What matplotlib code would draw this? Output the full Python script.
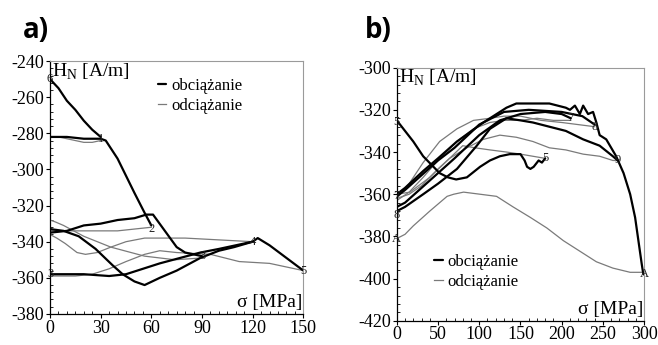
import numpy as np
import matplotlib
matplotlib.use("Agg")
import matplotlib.pyplot as plt
from matplotlib.ticker import MultipleLocator
from matplotlib.lines import Line2D

plt.rcParams["font.family"] = ["Liberation Serif", "DejaVu Serif"]
plt.rcParams["axes.unicode_minus"] = False

# ---------- panel a) : sigma up to 150 MPa ----------
# loading (obciążanie) curves, thick black
a_load_1_x = [0, 5, 10, 15, 20, 25, 30]
a_load_1_y = [-250, -255, -262, -267, -273, -278, -282]
a_load_2_x = [0, 10, 20, 30, 33, 40, 50, 56, 60]
a_load_2_y = [-282, -282, -283, -283, -284, -294, -313, -324, -331]
a_load_3_x = [0, 10, 20, 30, 40, 50, 57, 61, 68, 75, 80, 90]
a_load_3_y = [-335, -334, -331, -330, -328, -327, -325, -325, -334, -343, -346, -348]
a_load_4_x = [0, 10, 20, 35, 45, 55, 65, 77, 89, 100, 110, 120]
a_load_4_y = [-358, -358, -358, -359, -358, -355, -352, -349, -346, -344, -342, -340]
a_load_5_x = [0, 8, 17, 27, 37, 43, 50, 56, 65, 75, 89, 100, 109, 120, 123, 130, 140, 150]
a_load_5_y = [-333, -334, -337, -344, -353, -358, -362, -364, -360, -356, -349, -345, -343, -340, -338, -342, -349, -356]

# unloading (odciążanie) curves, thin grey
a_unl_1_x = [30, 25, 20, 15, 10, 5, 0]
a_unl_1_y = [-284, -285, -285, -284, -283, -282, -282]
a_unl_2_x = [60, 50, 40, 30, 20, 10, 0]
a_unl_2_y = [-332, -333, -334, -334, -334, -334, -334]
a_unl_3_x = [90, 74, 56, 36, 20, 8, 3, 0]
a_unl_3_y = [-349, -350, -348, -343, -337, -331, -329, -328]
a_unl_4_x = [120, 100, 80, 65, 56, 45, 36, 28, 21, 16, 9, 4, 0]
a_unl_4_y = [-340, -339, -338, -338, -338, -340, -343, -346, -347, -346, -341, -338, -336]
a_unl_5_x = [150, 140, 130, 112, 95, 75, 65, 56, 45, 35, 25, 15, 5, 0]
a_unl_5_y = [-356, -354, -352, -351, -347, -346, -345, -347, -351, -355, -358, -359, -359, -359]

a_marks = ["6", "1", "2", "3", "4", "5", "3"]
a_mark_x = [0, 30, 60, 90, 120, 150, 0]
a_mark_y = [-250, -283, -333, -348, -340, -356, -358]

# ---------- panel b) : sigma up to 300 MPa ----------
b_load_1_x = [0, 10, 20, 32, 42, 52, 62, 72, 85, 101, 113, 125, 137, 150, 155, 158, 162, 166, 172, 176, 180]
b_load_1_y = [-325, -330, -335, -342, -346, -350, -352, -353, -352, -347, -344, -342, -341, -341, -344, -347, -348, -347, -344, -345, -343]
b_load_2_x = [0, 10, 32, 50, 73, 97, 113, 133, 150, 165, 185, 205, 226, 246, 262, 268]
b_load_2_y = [-368, -366, -360, -355, -348, -337, -329, -324, -325, -326, -328, -330, -334, -337, -342, -344]
b_load_3_x = [0, 10, 30, 50, 70, 100, 125, 150, 180, 200, 211]
b_load_3_y = [-366, -364, -357, -350, -343, -332, -325, -322, -321, -322, -324]
b_load_4_x = [0, 10, 30, 50, 70, 100, 130, 160, 200, 225, 240]
b_load_4_y = [-361, -358, -351, -344, -338, -327, -321, -320, -321, -323, -327]
b_load_5_x = [0, 10, 32, 50, 73, 105, 133, 145, 165, 185, 205, 210, 216, 222, 226, 232, 238, 242, 246,
              254, 266, 275, 283, 289, 293, 297, 299, 302, 305]
b_load_5_y = [-360, -357, -349, -343, -335, -326, -319, -317, -317, -317, -319, -320, -318, -322, -318, -322, -321, -326, -332,
              -334, -342, -350, -360, -371, -382, -393, -398, -397, -399]

b_unl_5_x = [180, 165, 150, 133, 113, 95, 80, 64, 50, 30, 15, 0]
b_unl_5_y = [-343, -342, -341, -340, -339, -338, -337, -343, -348, -356, -360, -362]
b_unl_7_x = [211, 190, 170, 150, 130, 113, 93, 73, 52, 32, 15, 0]
b_unl_7_y = [-325, -325, -324, -325, -325, -326, -329, -335, -343, -352, -359, -363]
b_unl_8_x = [240, 220, 200, 175, 150, 130, 113, 93, 73, 52, 32, 15, 0]
b_unl_8_y = [-328, -327, -326, -325, -323, -323, -324, -325, -329, -335, -345, -355, -362]
b_unl_9_x = [268, 262, 246, 226, 205, 185, 165, 145, 125, 105, 85, 64, 40, 16, 0]
b_unl_9_y = [-344, -344, -342, -341, -339, -338, -335, -333, -332, -334, -338, -343, -352, -359, -360]
b_unl_A_x = [0, 10, 20, 40, 61, 69, 81, 101, 121, 141, 162, 182, 202, 222, 242, 262, 283, 300]
b_unl_A_y = [-381, -379, -375, -368, -361, -360, -359, -360, -361, -366, -371, -376, -382, -387, -392, -395, -397, -397]

b_marks = ["5", "7", "8", "A", "5", "7", "8", "9", "A"]
b_mark_x = [0, 0, 0, 0, 180, 211, 240, 268, 300]
b_mark_y = [-326, -361, -370, -381, -343, -324, -328, -344, -398]

THICK = dict(color="black", lw=1.6, solid_capstyle="round")
THIN = dict(color="#7a7a7a", lw=0.9)

fig = plt.figure(figsize=(6.58, 3.45), dpi=100)
ax1 = fig.add_axes([0.076, 0.090, 0.385, 0.733])
ax2 = fig.add_axes([0.603, 0.070, 0.376, 0.734])


def style_axes(ax, xlim, ylim, xmaj, xmin, ymaj, ymin):
    ax.set_xlim(*xlim)
    ax.set_ylim(*ylim)
    ax.xaxis.set_major_locator(MultipleLocator(xmaj))
    ax.xaxis.set_minor_locator(MultipleLocator(xmin))
    ax.yaxis.set_major_locator(MultipleLocator(ymaj))
    ax.yaxis.set_minor_locator(MultipleLocator(ymin))
    ax.tick_params(which="major", direction="out", length=3, width=0.8, labelsize=13, pad=1)
    ax.tick_params(which="minor", direction="in", length=2.5, width=0.6)
    for s in ["top", "right"]:
        ax.spines[s].set_color("#9a9a9a")
        ax.spines[s].set_linewidth(0.8)
    for s in ["left", "bottom"]:
        ax.spines[s].set_linewidth(0.9)
    ax.text(0.008, 0.998, r"H$_\mathregular{N}$ [A/m]", transform=ax.transAxes,
            fontsize=14, va="top", ha="left")
    ax.text(0.995, 0.012, "σ [MPa]", transform=ax.transAxes,
            fontsize=14, va="bottom", ha="right")


# panel a
for xs, ys in [(a_unl_1_x, a_unl_1_y), (a_unl_2_x, a_unl_2_y), (a_unl_3_x, a_unl_3_y),
               (a_unl_4_x, a_unl_4_y), (a_unl_5_x, a_unl_5_y)]:
    ax1.plot(xs, ys, **THIN)
for xs, ys in [(a_load_1_x, a_load_1_y), (a_load_2_x, a_load_2_y), (a_load_3_x, a_load_3_y),
               (a_load_4_x, a_load_4_y), (a_load_5_x, a_load_5_y)]:
    ax1.plot(xs, ys, **THICK)
for t, x, y in zip(a_marks, a_mark_x, a_mark_y):
    ax1.text(x, y, t, fontsize=9, ha="center", va="center", color="#222222")
style_axes(ax1, (0, 150), (-380, -240), 30, 5, 20, 4)

leg_handles = [Line2D([], [], **THICK), Line2D([], [], **THIN)]
ax1.legend(leg_handles, ["obciążanie", "odciążanie"], loc="upper left",
           bbox_to_anchor=(0.4, 0.96), frameon=False, fontsize=12,
           handlelength=0.5, handletextpad=0.3, labelspacing=0.25, borderaxespad=0)

# panel b
for xs, ys in [(b_unl_5_x, b_unl_5_y), (b_unl_7_x, b_unl_7_y), (b_unl_8_x, b_unl_8_y),
               (b_unl_9_x, b_unl_9_y), (b_unl_A_x, b_unl_A_y)]:
    ax2.plot(xs, ys, **THIN)
for xs, ys in [(b_load_1_x, b_load_1_y), (b_load_2_x, b_load_2_y), (b_load_3_x, b_load_3_y),
               (b_load_4_x, b_load_4_y), (b_load_5_x, b_load_5_y)]:
    ax2.plot(xs, ys, **THICK)
for t, x, y in zip(b_marks, b_mark_x, b_mark_y):
    ax2.text(x, y, t, fontsize=9, ha="center", va="center", color="#222222")
style_axes(ax2, (0, 300), (-420, -300), 50, 10, 20, 4)
ax2.legend(leg_handles, ["obciążanie", "odciążanie"], loc="upper left",
           bbox_to_anchor=(0.125, 0.29), frameon=False, fontsize=12,
           handlelength=0.5, handletextpad=0.3, labelspacing=0.25, borderaxespad=0)

fig.text(0.035, 0.955, "a)", fontsize=20, fontweight="bold", family="Open Sans", va="top")
fig.text(0.555, 0.955, "b)", fontsize=20, fontweight="bold", family="Open Sans", va="top")

fig.savefig("out.png", dpi=100)
